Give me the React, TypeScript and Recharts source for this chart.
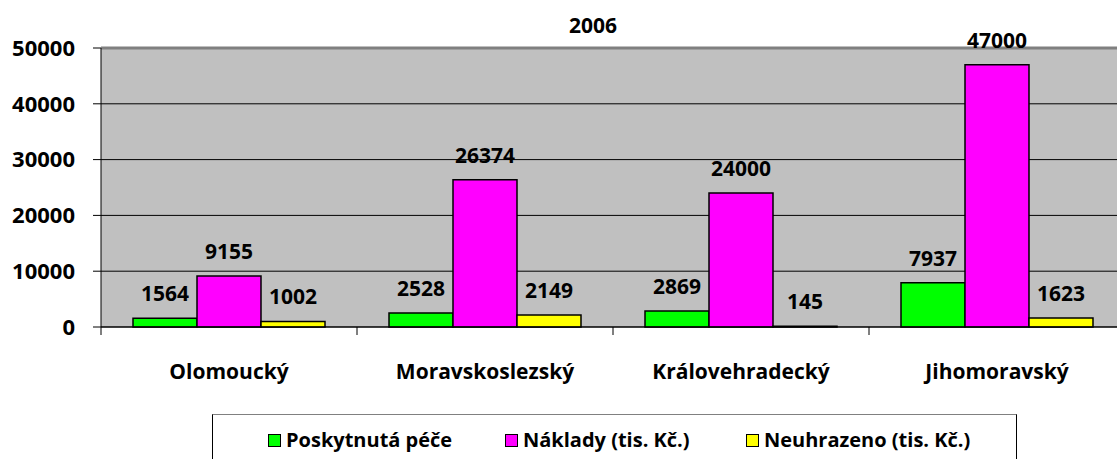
import { Bar, BarChart, CartesianGrid, LabelList, ReferenceLine, XAxis, YAxis } from 'recharts';

const regions = ['Olomoucký', 'Moravskoslezský', 'Královehradecký', 'Jihomoravský'];
const care = [1564, 2528, 2869, 7937];
const costs = [9155, 26374, 24000, 47000];
const unpaid = [1002, 2149, 145, 1623];
const yTicks = [0, 10000, 20000, 30000, 40000, 50000];
const title = '2006';

const series = [
  { key: 'care', name: 'Poskytnutá péče', color: '#00FF00' },
  { key: 'costs', name: 'Náklady (tis. Kč.)', color: '#FF00FF' },
  { key: 'unpaid', name: 'Neuhrazeno (tis. Kč.)', color: '#FFFF00' },
];

const data = regions.map((region, i) => ({
  region,
  care: care[i],
  costs: costs[i],
  unpaid: unpaid[i],
}));

const FONT = '"Open Sans", sans-serif';

const CategoryTick = (props: any) => {
  const { x, y, payload } = props;
  const half = payload?.offset ?? 128;
  return (
    <g>
      <line x1={x - half} x2={x - half} y1={y} y2={y + 8} stroke="#000" strokeWidth={1} />
      <text x={x} y={y + 52} textAnchor="middle" fontFamily={FONT} fontWeight={700} fontSize={21} fill="#000">
        {payload.value}
      </text>
    </g>
  );
};

const legendX = [268, 505, 746];

export default function App() {
  return (
    <div style={{ position: 'absolute', left: 0, top: 0, width: 1117, height: 459, overflow: 'hidden', background: '#fff' }}>
      <div
        style={{
          position: 'absolute',
          left: 543,
          top: 10,
          width: 100,
          textAlign: 'center',
          fontFamily: FONT,
          fontWeight: 700,
          fontSize: 21,
          lineHeight: '30px',
        }}
      >
        {title}
      </div>
      <BarChart
        width={1140}
        height={459}
        data={data}
        margin={{ top: 48, right: 15, left: 0, bottom: 72 }}
        barCategoryGap="12.5%"
        barGap={0}
      >
        <CartesianGrid vertical={false} stroke="#000" fill="#C0C0C0" fillOpacity={1} />
        <XAxis
          dataKey="region"
          height={60}
          axisLine={{ stroke: '#000' }}
          tickLine={false}
          tickSize={0}
          tickMargin={0}
          tick={<CategoryTick />}
          interval={0}
        />
        <YAxis
          width={101}
          domain={[0, 50000]}
          ticks={yTicks}
          interval={0}
          axisLine={{ stroke: '#000' }}
          tickLine={{ stroke: '#000' }}
          tickSize={8}
          tickMargin={18}
          tick={{ fill: '#000', fontFamily: FONT, fontWeight: 700, fontSize: 22 }}
        />
        <ReferenceLine y={50000} stroke="#808080" strokeWidth={3} />
        {series.map((s) => (
          <Bar key={s.key} dataKey={s.key} name={s.name} fill={s.color} stroke="#000" strokeWidth={1.5} isAnimationActive={false}>
            <LabelList
              dataKey={s.key}
              position="top"
              offset={17}
              fill="#000"
              fontFamily={FONT}
              fontWeight={700}
              fontSize={21}
            />
          </Bar>
        ))}
      </BarChart>
      <div
        style={{
          position: 'absolute',
          left: 212,
          top: 414,
          width: 805,
          height: 60,
          borderTop: '1px solid #808080',
          borderLeft: '1px solid #000',
          borderRight: '1px solid #000',
          boxSizing: 'border-box',
        }}
      />
      {series.map((s, i) => (
        <div
          key={s.key}
          style={{
            position: 'absolute',
            left: legendX[i],
            top: 426,
            display: 'flex',
            alignItems: 'center',
            fontFamily: FONT,
            fontWeight: 700,
            fontSize: 20,
            lineHeight: '28px',
            whiteSpace: 'nowrap',
          }}
        >
          <span
            style={{
              display: 'inline-block',
              width: 11,
              height: 11,
              background: s.color,
              border: '1.5px solid #000',
              marginRight: 5,
            }}
          />
          {s.name}
        </div>
      ))}
    </div>
  );
}
